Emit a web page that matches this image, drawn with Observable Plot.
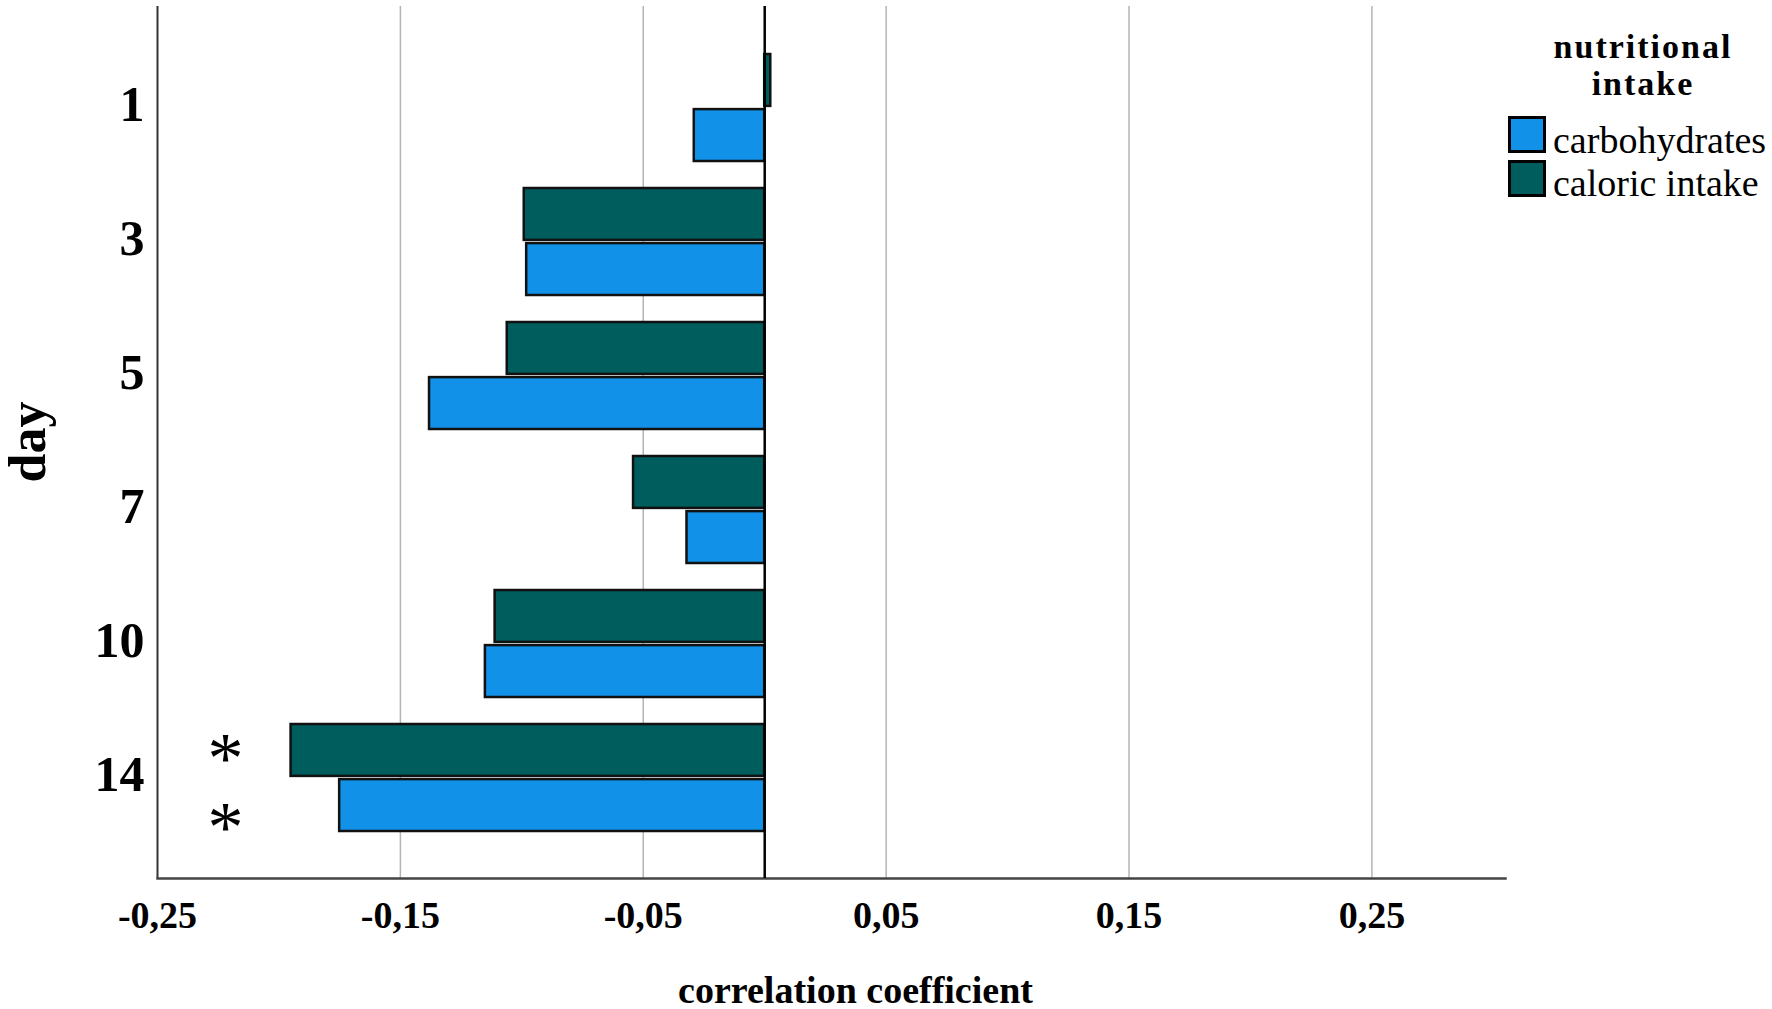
<!DOCTYPE html>
<html><head><meta charset="utf-8">
<script src="https://cdn.jsdelivr.net/npm/d3@7"></script>
<script src="https://cdn.jsdelivr.net/npm/@observablehq/plot@0.6"></script>
<style>
body{margin:0;background:#fff;}
#wrap{position:relative;width:1772px;height:1009px;font-family:"Liberation Serif",serif;}
#legendTitle{position:absolute;left:1493px;top:28px;width:300px;text-align:center;font-size:34px;font-weight:bold;letter-spacing:2px;line-height:37px;color:#000;}
.sw{position:absolute;left:1508px;width:32px;height:31px;border:3px solid #000;}
.lt{position:absolute;left:1553px;font-size:38px;line-height:38px;color:#000;white-space:nowrap;}
</style></head><body><div id="wrap"></div>
<script>
const days = [1, 3, 5, 7, 10, 14];
const seriesNames = ["carbohydrates", "caloric intake"];
const seriesColors = ["#1192e8", "#005d5d"];
const carbohydrates = [-0.029, -0.098, -0.138, -0.032, -0.115, -0.175];
const caloricIntake = [0.0025, -0.099, -0.106, -0.054, -0.111, -0.195];
const carbohydratesSig = ["", "", "", "", "", "*"];
const caloricIntakeSig = ["", "", "", "", "", "*"];
const xTicks = [-0.25, -0.15, -0.05, 0.05, 0.15, 0.25];
const gridValues = [-0.15, -0.05, 0.05, 0.15, 0.25];
const xLabel = "correlation coefficient";
const yLabel = "day";
const legendTitle = ["nutritional", "intake"];

const carbRows = days.map((d, i) => ({day: d, series: "carbohydrates", value: carbohydrates[i], sig: carbohydratesSig[i]}));
const calRows = days.map((d, i) => ({day: d, series: "caloric intake", value: caloricIntake[i], sig: caloricIntakeSig[i]}));
const fmt = v => v.toFixed(2).replace(".", ",");
// half of a day band plus the small gap between the two bars of a day
const half = 55.1;

const chart = Plot.plot({
  width: 1772, height: 1009,
  marginLeft: 157, marginRight: 267, marginTop: 6, marginBottom: 131,
  style: {fontFamily: "Liberation Serif", background: "white", color: "#000"},
  x: {domain: [-0.25, 0.305], axis: null},
  y: {domain: days, paddingInner: 0.205, paddingOuter: 0.34, axis: null},
  color: {domain: seriesNames, range: seriesColors},
  marks: [
    Plot.ruleX(gridValues, {stroke: "#b4b4b4", strokeWidth: 1.5}),
    Plot.ruleX([-0.25], {stroke: "#333", strokeWidth: 2}),
    Plot.frame({anchor: "bottom", stroke: "#444", strokeWidth: 2.5}),
    Plot.barX(calRows, {x: "value", y: "day", fill: "series", stroke: "#111", strokeWidth: 2.5, insetBottom: half}),
    Plot.barX(carbRows, {x: "value", y: "day", fill: "series", stroke: "#111", strokeWidth: 2.5, insetTop: half}),
    Plot.ruleX([0], {stroke: "#000", strokeWidth: 2.5}),
    Plot.text(calRows.filter(d => d.sig), {x: -0.222, y: "day", text: "sig", fontSize: 72, dy: -18.6}),
    Plot.text(carbRows.filter(d => d.sig), {x: -0.222, y: "day", text: "sig", fontSize: 72, dy: 50}),
    Plot.text(days, {y: d => d, text: d => String(d), frameAnchor: "left", dx: -13, dy: -3, textAnchor: "end", fontSize: 50, fontWeight: "bold"}),
    Plot.text(xTicks, {x: d => d, text: fmt, frameAnchor: "bottom", dy: 49, fontSize: 38, fontWeight: "bold"}),
    Plot.text([xLabel], {text: d => d, frameAnchor: "bottom", dx: 24, dy: 124, fontSize: 38, fontWeight: "bold"}),
    Plot.text([yLabel], {text: d => d, frameAnchor: "left", dx: -129, dy: 40, rotate: -90, fontSize: 52, fontWeight: "bold"})
  ]
});
const wrap = document.getElementById("wrap");
wrap.appendChild(chart);

const lt = document.createElement("div");
lt.id = "legendTitle";
lt.innerHTML = legendTitle.join("<br>");
wrap.appendChild(lt);
const swTops = [116, 160];
const txtTops = [121, 164];
seriesNames.forEach((name, i) => {
  const s = document.createElement("div");
  s.className = "sw";
  s.style.top = swTops[i] + "px";
  s.style.background = seriesColors[i];
  wrap.appendChild(s);
  const t = document.createElement("div");
  t.className = "lt";
  t.style.top = txtTops[i] + "px";
  t.textContent = name;
  wrap.appendChild(t);
});
</script></body></html>
